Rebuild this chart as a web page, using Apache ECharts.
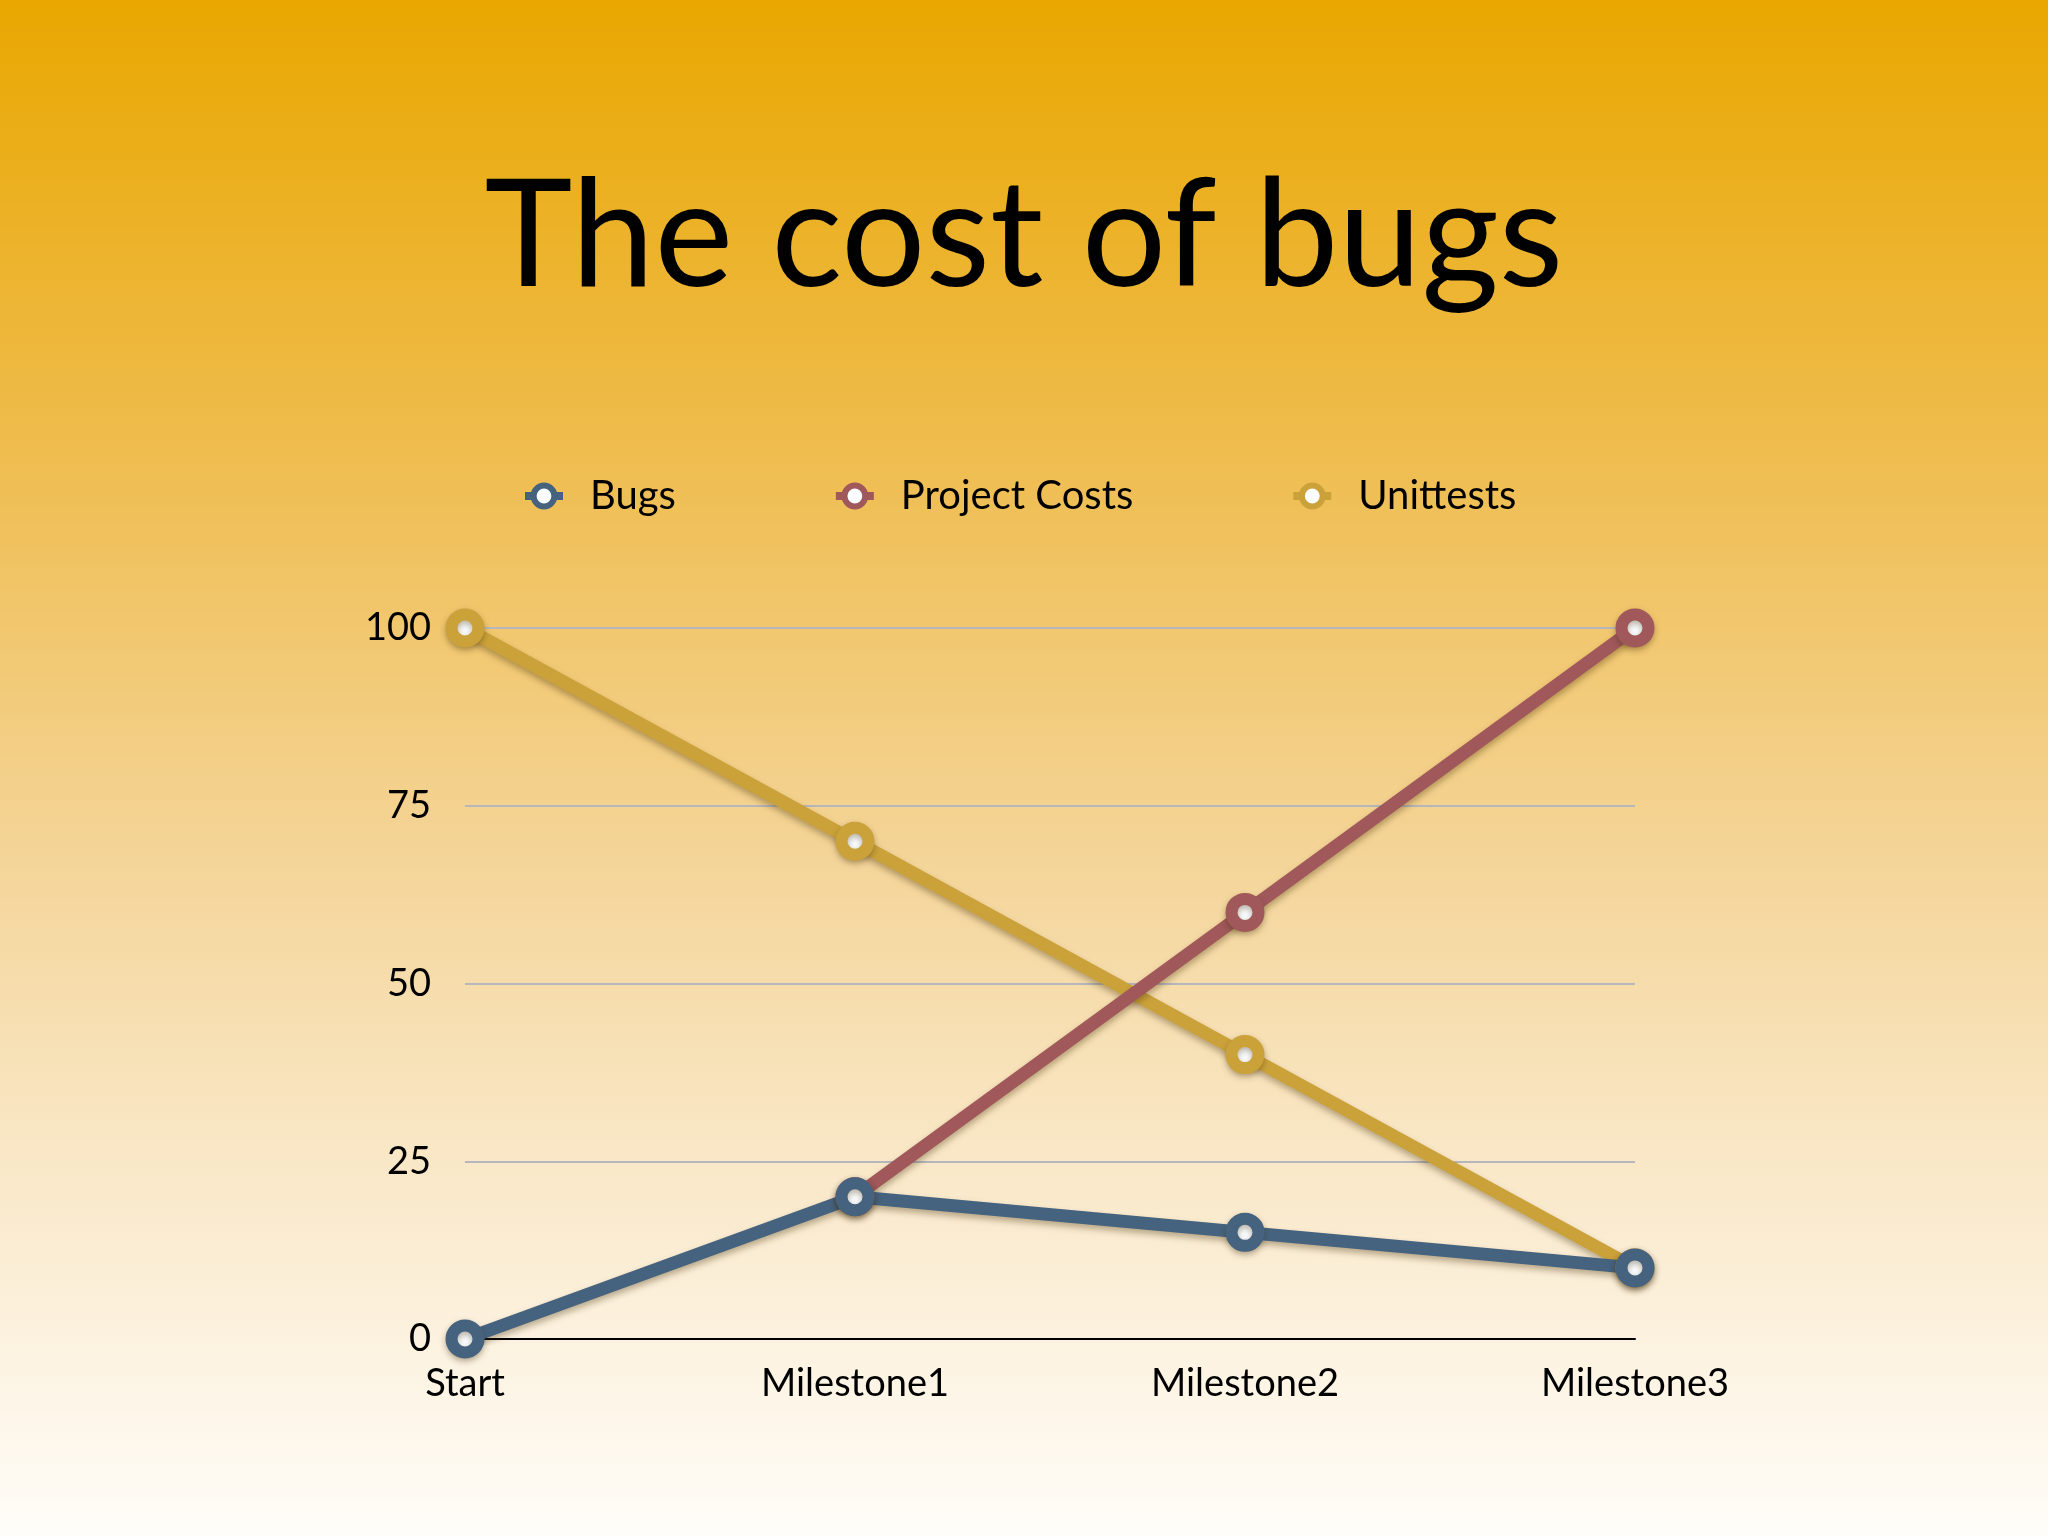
<!DOCTYPE html>
<html>
<head>
<meta charset="utf-8">
<script src="https://cdn.jsdelivr.net/npm/echarts@6/dist/echarts.min.js"></script>
<style>
html, body { margin: 0; padding: 0; }
#chart { width: 2048px; height: 1536px; }
</style>
</head>
<body>
<div id="chart"></div>
<script>
// chart data
var categories = ['Start', 'Milestone1', 'Milestone2', 'Milestone3'];
var bugs = [0, 20, 15, 10];
var projectCosts = [null, 20, 60, 100];
var unittests = [100, 70, 40, 10];
var yTicks = [0, 25, 50, 75, 100];

var colors = {
	bugs : '#45637f',
	costs : '#a0585a',
	tests : '#cba23a'
};

var myChart = echarts.init(document.getElementById('chart'));

function makeSeries(name, data, color) {
	return {
		name : name,
		type : 'line',
		data : data,
		symbol : 'circle',
		symbolSize : 27,
		showAllSymbol : true,
		connectNulls : false,
		itemStyle : {
			color : '#fbfdff',
			borderColor : color,
			borderWidth : 12,
			shadowColor : 'rgba(60,40,0,0.35)',
			shadowBlur : 6,
			shadowOffsetY : 3
		},
		lineStyle : {
			color : color,
			width : 13,
			shadowColor : 'rgba(60,40,0,0.35)',
			shadowBlur : 6,
			shadowOffsetY : 4
		},
		emphasis : { disabled : true },
		animation : false
	};
}

myChart.setOption({
	backgroundColor : new echarts.graphic.LinearGradient(0, 0, 0, 1, [
		{ offset : 0, color : '#e9a700' },
		{ offset : 0.3, color : '#efbd50' },
		{ offset : 0.55, color : '#f4d496' },
		{ offset : 0.75, color : '#f9e7c6' },
		{ offset : 1, color : '#fffdf9' }
	]),
	textStyle : { fontFamily : 'Lato' },
	title : {
		text : 'The cost of bugs',
		left : 'center',
		top : 158,
		textStyle : {
			fontFamily : 'Lato',
			fontSize : 149,
			fontWeight : 'normal',
			color : '#000'
		}
	},
	legend : {
		data : ['Bugs', 'Project Costs', 'Unittests'],
		top : 471,
		left : 516,
		itemWidth : 38,
		itemHeight : 26,
		itemGap : 156,
		itemStyle : { borderWidth : 6 },
		lineStyle : { width : 8 },
		textStyle : {
			fontSize : 40,
			color : '#000',
			padding : [0, 0, 0, 22]
		}
	},
	grid : {
		left : 465,
		right : 413,
		top : 628,
		bottom : 197,
		containLabel : false
	},
	xAxis : {
		type : 'category',
		boundaryGap : false,
		data : categories,
		axisLine : { lineStyle : { color : '#000', width : 2 } },
		axisTick : { show : false },
		axisLabel : { fontSize : 38, color : '#000', margin : 26 },
		splitLine : { show : false }
	},
	yAxis : {
		type : 'value',
		min : yTicks[0],
		max : yTicks[yTicks.length - 1],
		interval : 25,
		axisLine : { show : false },
		axisTick : { show : false },
		axisLabel : { fontSize : 38, color : '#000', margin : 34 },
		splitLine : { lineStyle : { color : '#b5b7bd', width : 2 } }
	},
	series : [
		makeSeries('Unittests', unittests, colors.tests),
		makeSeries('Project Costs', projectCosts, colors.costs),
		makeSeries('Bugs', bugs, colors.bugs)
	]
});
</script>
</body>
</html>
